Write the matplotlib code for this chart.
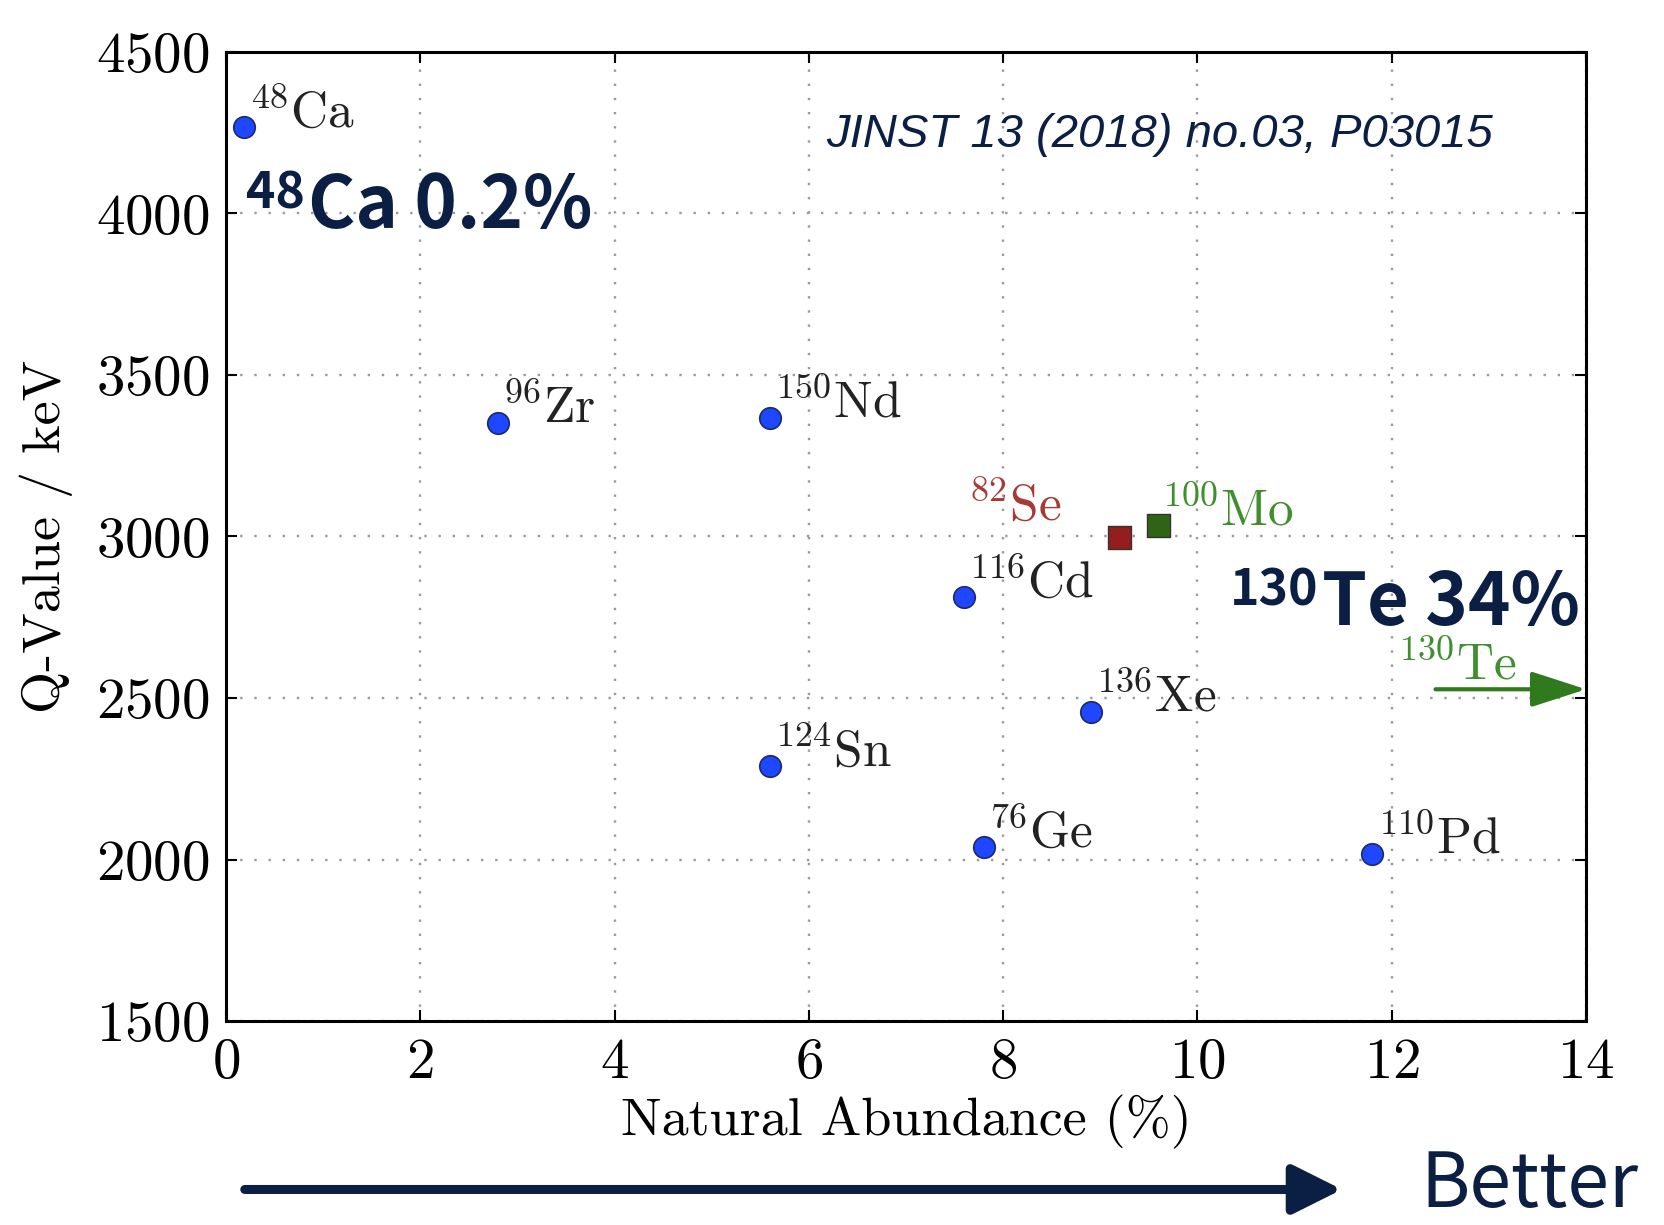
import matplotlib
matplotlib.use('Agg')
import matplotlib.pyplot as plt

plt.rcParams['font.family'] = ['cmr10']
plt.rcParams['mathtext.fontset'] = 'cm'
plt.rcParams['axes.unicode_minus'] = False
plt.rcParams['axes.formatter.use_mathtext'] = True

# isotopes drawn as blue dots
iso_mass = ['48', '96', '150', '116', '136', '124', '76', '110']
iso_elem = ['Ca', 'Zr', 'Nd', 'Cd', 'Xe', 'Sn', 'Ge', 'Pd']
abundance = [0.19, 2.8, 5.6, 7.6, 8.9, 5.6, 7.8, 11.8]
q_value = [4268, 3350, 3367, 2813, 2458, 2291, 2039, 2017]

# highlighted isotopes (squares)
sq_label = ['82', '100']
sq_elem = ['Se', 'Mo']
sq_abundance = [9.2, 9.6]
sq_q = [2998, 3034]
sq_face = ['#941d1d', '#2f6414']
sq_text = ['#a83a36', '#3f8f2e']

# 130Te is off the scale (34 %)
te_start = 12.45
te_q = 2527

navy = '#0b1f44'
big = ['Noto Sans CJK JP', 'DejaVu Sans']

fig = plt.figure(figsize=(16.65, 12.25), dpi=100)
ax = fig.add_axes([0.1357, 0.1665, 0.8169, 0.7911])

ax.scatter(abundance, q_value, s=240, c='#1f47ff', edgecolors='#1a2a6a', linewidths=1.2, zorder=3)
for m, e, x, y in zip(iso_mass, iso_elem, abundance, q_value):
    ax.annotate(r'$^{%s}$%s' % (m, e), (x, y), xytext=(3, 0), textcoords='offset points',
                fontsize=37, va='baseline', ha='left', color='#222222')

ax.scatter(sq_abundance, sq_q, s=280, marker='s', c=sq_face, edgecolors='#333333', linewidths=1.0, zorder=3)
ax.annotate(r'$^{%s}$%s' % (sq_label[0], sq_elem[0]), (sq_abundance[0], sq_q[0]), xytext=(-42, 12),
            textcoords='offset points', fontsize=37, va='baseline', ha='right', color=sq_text[0])
ax.annotate(r'$^{%s}$%s' % (sq_label[1], sq_elem[1]), (sq_abundance[1], sq_q[1]), xytext=(2, 0),
            textcoords='offset points', fontsize=37, va='baseline', ha='left', color=sq_text[1])

ax.annotate('', xy=(14, te_q), xytext=(te_start, te_q),
            arrowprops=dict(arrowstyle='-|>,head_length=1.7,head_width=0.55', lw=3, color='#2e7a1c',
                            shrinkA=0, shrinkB=0, mutation_scale=20), annotation_clip=False)
ax.text(12.05, te_q + 30, r'$^{130}$Te', fontsize=37, va='baseline', ha='left', color='#3f8f2e')

ax.set_xlim(0, 14)
ax.set_ylim(1500, 4500)
ax.set_xticks(range(0, 15, 2))
ax.set_yticks(range(1500, 4501, 500))
ax.tick_params(direction='in', top=True, right=True, length=8, width=1.5, labelsize=41, pad=12)
ax.grid(True, linestyle=(0, (1, 5)), color='#9a9a9a', linewidth=1.7)
for sp in ax.spines.values():
    sp.set_linewidth(2.2)
ax.set_xlabel('Natural Abundance (%)', fontsize=39, labelpad=4)
ax.set_ylabel('Q-Value / keV', fontsize=39, labelpad=16)

# big annotations
fig.text(0.185, 0.8135, 'Ca 0.2%', family=big, weight='bold', fontsize=52, color=navy)
fig.text(0.183, 0.830, '48', family=big, weight='bold', fontsize=36, color=navy, ha='right')
fig.text(0.794, 0.490, 'Te 34%', family=big, weight='bold', fontsize=52, color=navy)
fig.text(0.792, 0.506, '130', family=big, weight='bold', fontsize=36, color=navy, ha='right')
fig.text(0.496, 0.880, 'JINST 13 (2018) no.03, P03015', family='Liberation Sans', style='italic',
         fontsize=34, color=navy)

ax.annotate('', xy=(0.806, 0.029), xytext=(0.147, 0.029), xycoords='figure fraction',
            textcoords='figure fraction',
            arrowprops=dict(arrowstyle='-|>,head_length=1.5,head_width=0.75', lw=6.5, color=navy,
                            shrinkA=0, shrinkB=0, mutation_scale=20))
fig.text(0.853, 0.001, 'Better', family=big, fontsize=54, color=navy, va='bottom')

fig.savefig('out.png', dpi=100)
